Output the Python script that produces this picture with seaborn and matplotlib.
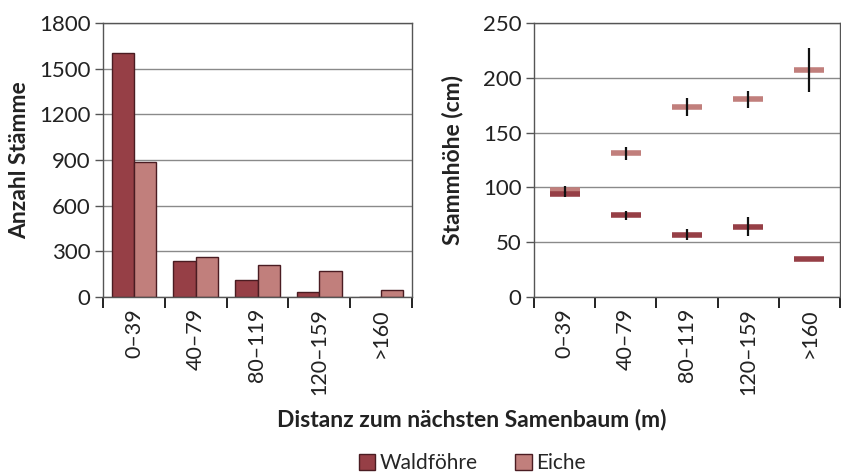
import numpy as np
import pandas as pd
import matplotlib
matplotlib.use("Agg")
import matplotlib.pyplot as plt
import seaborn as sns

# data
klassen = ["0–39", "40–79", "80–119", "120–159", ">160"]
arten = ["Waldföhre", "Eiche"]
anzahl_waldfoehre = [1600, 235, 110, 30, 3]
anzahl_eiche = [885, 262, 210, 170, 45]
hoehe_waldfoehre = [93.6, 74.4, 57, 64.3, 35]
hoehe_eiche = [97.9, 131, 173.2, 180.5, 207]
fehler_waldfoehre = [2, 4.5, 5.3, 8.5, 0]
fehler_eiche = [3, 6.3, 8, 7.7, 20]

farben = {"Waldföhre": "#963f46", "Eiche": "#c17f7c"}
rand = "#4a1c22"

sns.set_theme(style="white")
plt.rcParams["font.family"] = ["Lato", "DejaVu Sans"]

df_anzahl = pd.DataFrame({
    "klasse": klassen * 2,
    "art": ["Waldföhre"] * 5 + ["Eiche"] * 5,
    "anzahl": anzahl_waldfoehre + anzahl_eiche,
})
df_hoehe = pd.DataFrame({
    "klasse": klassen * 2,
    "art": ["Eiche"] * 5 + ["Waldföhre"] * 5,
    "hoehe": hoehe_eiche + hoehe_waldfoehre,
    "fehler": fehler_eiche + fehler_waldfoehre,
})

W, H = 841, 475
fig = plt.figure(figsize=(W / 100, H / 100), dpi=100)
ax1 = fig.add_axes([103 / W, (H - 297) / H, 309 / W, 274 / H])
ax2 = fig.add_axes([534 / W, (H - 297) / H, 306 / W, 274 / H])

sns.barplot(data=df_anzahl, x="klasse", y="anzahl", hue="art", hue_order=arten,
            palette=farben, width=0.72, edgecolor=rand, linewidth=1,
            saturation=1, ax=ax1, legend=False)

for art in ["Eiche", "Waldföhre"]:
    sub = df_hoehe[df_hoehe["art"] == art]
    sns.scatterplot(data=sub, x="klasse", y="hoehe", marker="_", s=480,
                    color=farben[art], linewidth=4, ax=ax2, zorder=3)
mask = df_hoehe["fehler"] > 0
sub = df_hoehe[mask]
ax2.errorbar([klassen.index(k) for k in sub["klasse"]], sub["hoehe"],
             yerr=sub["fehler"], fmt="none", ecolor="#111111",
             elinewidth=1.6, capsize=0, zorder=4)

for ax, ymax, step, lab in [(ax1, 1800, 300, "Anzahl Stämme"),
                            (ax2, 250, 50, "Stammhöhe (cm)")]:
    ax.set_xlim(-0.5, 4.5)
    ax.set_ylim(0, ymax)
    ax.set_yticks(np.arange(0, ymax + 1, step))
    ax.yaxis.grid(True, color="#8a8a8a", linewidth=1)
    ax.set_axisbelow(True)
    ax.set_xticks(range(5))
    ax.set_xticklabels(klassen, rotation=90, fontsize=15.5, color="#222222")
    ax.set_xticks(np.arange(-0.5, 5, 1), minor=True)
    ax.tick_params(axis="x", which="major", length=0, pad=8)
    ax.tick_params(axis="x", which="minor", length=8, width=1.4,
                   color="#222222", direction="out", bottom=True)
    ax.tick_params(axis="y", length=6, width=1, color="#555555",
                   direction="out", left=True, labelsize=16,
                   labelcolor="#222222", pad=3)
    ax.set_xlabel("")
    ax.set_ylabel(lab, fontsize=16.5, fontweight="bold", color="#222222")
    for s in ax.spines.values():
        s.set_color("#555555")
        s.set_linewidth(1)

ax1.yaxis.set_label_coords(-0.235, 0.5)
ax2.yaxis.set_label_coords(-0.23, 0.5)

fig.text(472 / W, 1 - 419 / H, "Distanz zum nächsten Samenbaum (m)",
         ha="center", va="center", fontsize=16.5, fontweight="bold",
         color="#222222")

handles = [plt.Rectangle((0, 0), 1, 1, facecolor=farben[a], edgecolor=rand,
                         linewidth=1) for a in arten]
fig.legend(handles, arten, loc="center", bbox_to_anchor=(472 / W, 1 - 463 / H),
           ncol=2, frameon=False, fontsize=15, handlelength=0.8,
           handleheight=0.8, handletextpad=0.2, columnspacing=1.8)

fig.savefig("out.png", dpi=100)
